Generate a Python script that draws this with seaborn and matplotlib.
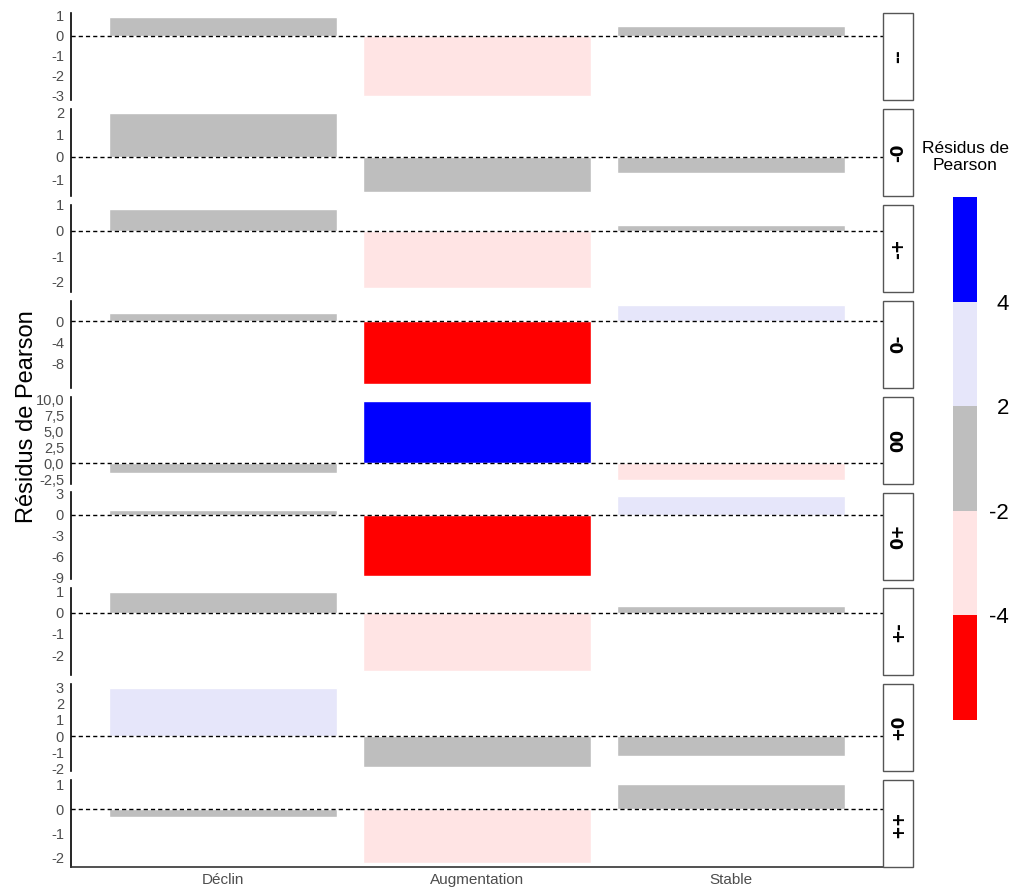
import numpy as np
import pandas as pd
import seaborn as sns
import matplotlib.pyplot as plt
from matplotlib.patches import Rectangle

# -----------------------------------------
# Data: Pearson residuals per pattern x trend
# -----------------------------------------
categories = ["Déclin", "Augmentation", "Stable"]
panels = ["--", "-0", "-+", "0-", "00", "0+", "+-", "+0", "++"]

declin = [0.93, 1.97, 0.85, 1.64, -1.50, 0.70, 0.96, 2.93, -0.31]
augmentation = [-3.02, -1.57, -2.23, -11.9, 9.9, -8.7, -2.77, -1.92, -2.23]
stable = [0.49, -0.71, 0.20, 3.20, -2.60, 2.58, 0.34, -1.25, 1.03]

# tick positions per panel (as in the reference)
ticks = [
    [1, 0, -1, -2, -3],
    [2, 1, 0, -1],
    [1, 0, -1, -2],
    [0, -4, -8],
    [10.0, 7.5, 5.0, 2.5, 0.0, -2.5],
    [3, 0, -3, -6, -9],
    [1, 0, -1, -2],
    [3, 2, 1, 0, -1, -2],
    [1, 0, -1, -2],
]

# colour classes of the residuals
breaks = [-4, -2, 2, 4]
class_names = ["<-4", "-4:-2", "-2:2", "2:4", ">4"]
class_colors = ["#FF0000", "#FFE4E4", "#BEBEBE", "#E6E6FA", "#0000FF"]
legend_labels = ["-4", "-2", "2", "4"]

df = pd.DataFrame({
    "pattern": np.repeat(panels, 3),
    "trend": categories * len(panels),
    "resid": np.ravel(np.column_stack([declin, augmentation, stable])),
})
df["cls"] = pd.cut(df["resid"], bins=[-np.inf] + breaks + [np.inf], labels=class_names)
df["cls"] = df["cls"].astype(str)
palette = dict(zip(class_names, class_colors))

# -----------------------------------------
# Figure
# -----------------------------------------
sns.set_theme(style="white")
plt.rcParams["font.family"] = ["Liberation Sans", "DejaVu Sans"]

W, H = 1019, 890
fig = plt.figure(figsize=(W / 100, H / 100), dpi=100)

left_px, right_px = 71, 883
top0, ph, period = 13, 87, 95.9

for i, pat in enumerate(panels):
    top = top0 + i * period
    ax = fig.add_axes([left_px / W, 1 - (top + ph) / H, (right_px - left_px) / W, ph / H])
    sub = df[df["pattern"] == pat]
    sns.barplot(data=sub, x="trend", y="resid", hue="cls", palette=palette,
                order=categories, dodge=False, width=0.9, legend=False,
                saturation=1, ax=ax)
    ax.axhline(0, color="black", lw=1, ls=(0, (3, 2.2)), zorder=3)
    ax.set_xlim(-0.6, 2.6)
    ax.margins(y=0.05)
    ax.autoscale_view()
    ax.set_yticks(ticks[i])
    if pat == "00":
        ax.set_yticklabels([f"{t:.1f}".replace(".", ",") for t in ticks[i]])
    else:
        ax.set_yticklabels([str(int(t)) for t in ticks[i]])
    ax.tick_params(axis="y", length=0, pad=5, labelsize=10.5, labelcolor="#4D4D4D")
    ax.set_ylabel("")
    ax.set_xlabel("")
    for s in ["top", "right"]:
        ax.spines[s].set_visible(False)
    ax.spines["left"].set_color("black")
    ax.spines["left"].set_linewidth(1.2)
    if i == len(panels) - 1:
        ax.spines["bottom"].set_color("#333333")
        ax.spines["bottom"].set_linewidth(1.2)
        ax.tick_params(axis="x", length=0, pad=4, labelsize=11, labelcolor="#4D4D4D")
    else:
        ax.spines["bottom"].set_visible(False)
        ax.set_xticks([])

    # facet strip on the right
    sw = 30 / (right_px - left_px)
    ax.add_patch(Rectangle((1.0, 0.0), sw, 1.0, transform=ax.transAxes,
                           facecolor="white", edgecolor="#555555", lw=1,
                           clip_on=False, zorder=5))
    ax.text(1.0 + sw / 2, 0.5, pat, transform=ax.transAxes, rotation=90,
            ha="center", va="center", fontsize=12, fontweight="bold",
            family="DejaVu Sans", color="black", zorder=6)

fig.text(27 / W, 1 - 417 / H, "Résidus de Pearson", rotation=90,
         ha="center", va="center", fontsize=17, color="black")

# -----------------------------------------
# Legend (discrete colour bar)
# -----------------------------------------
cax = fig.add_axes([953 / W, 1 - 720 / H, 24 / W, 523 / H])
cax.bar(x=[0] * len(class_colors), height=[1] * len(class_colors),
        bottom=np.arange(len(class_colors)), width=1, color=class_colors,
        linewidth=0)
cax.set_xlim(-0.5, 0.5)
cax.set_ylim(0, len(class_colors))
cax.set_xticks([])
cax.yaxis.tick_right()
cax.set_yticks(np.arange(1, len(class_colors)))
cax.set_yticklabels(legend_labels, ha="right")
cax.tick_params(axis="y", length=0, pad=23, labelsize=16, labelcolor="black")
for s in cax.spines.values():
    s.set_visible(False)
fig.text(965 / W, 1 - 157 / H, "Résidus de\nPearson", ha="center", va="center",
         fontsize=12.5, color="black", linespacing=1.1)

plt.savefig("out.png", dpi=100)
